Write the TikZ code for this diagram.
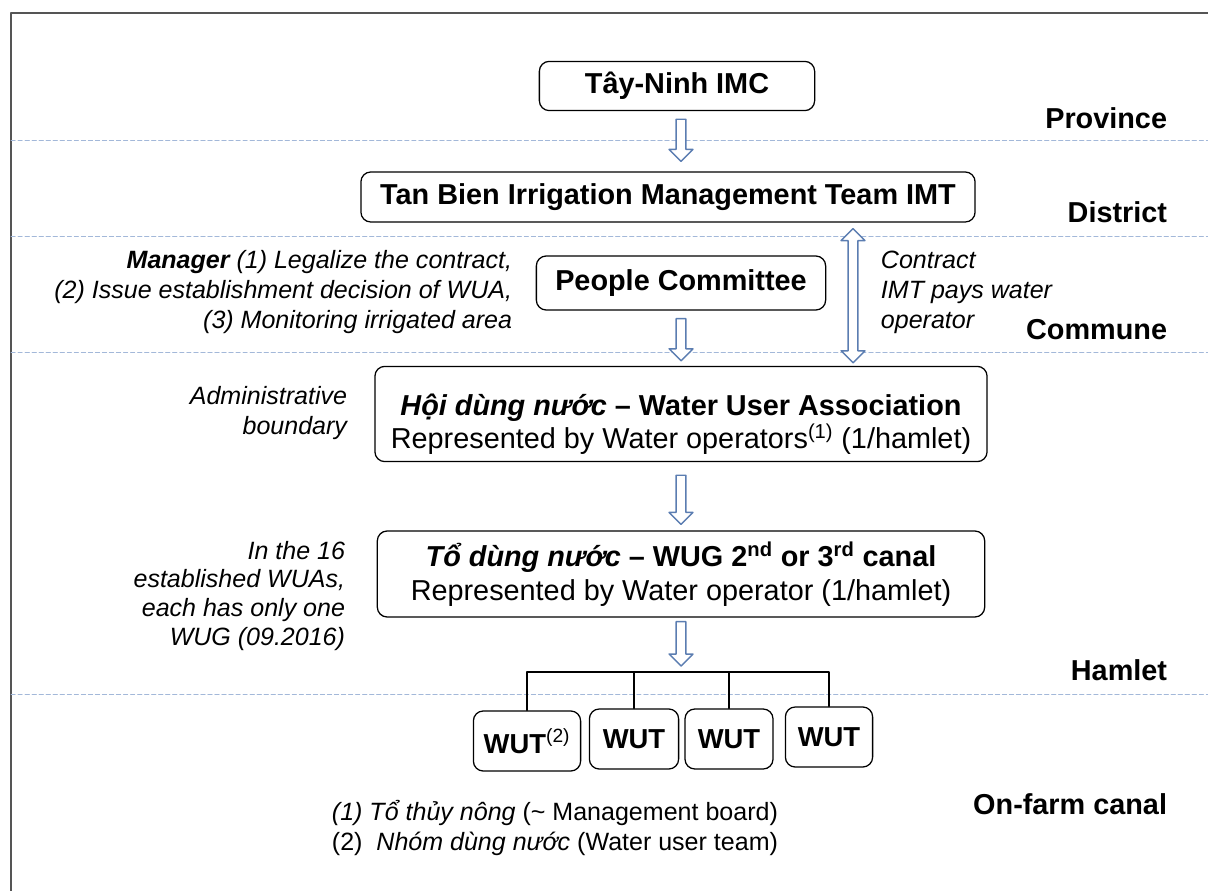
\documentclass[tikz,border=0pt]{standalone}
\usepackage{fontspec}
\setmainfont{Liberation Sans}
\usetikzlibrary{calc}
\definecolor{arrowblue}{HTML}{5B7DB1}
\definecolor{sepblue}{HTML}{A3B8D9}
\definecolor{framegray}{HTML}{555555}

\begin{document}
\begin{tikzpicture}[x=0.025cm, y=-0.025cm, line join=round, line cap=round,
		box/.style={draw, rounded corners=7pt, line width=0.9pt, align=center, inner sep=0pt},
		big/.style={font=\fontsize{20.5}{24}\selectfont\bfseries},
		body/.style={font=\fontsize{20.5}{24}\selectfont},
		note/.style={font=\fontsize{17.8}{21.3}\selectfont\itshape},
		level/.style={font=\fontsize{20.5}{24}\selectfont\bfseries, anchor=east},
		sep/.style={sepblue, dash pattern=on 3pt off 2pt, line width=0.7pt},
		hollow/.style={draw=arrowblue, fill=white, line width=1pt},
		tree/.style={line width=1pt}]
			\def\sw{3.5pt} \def\hw{8.5pt} \def\hl{8.5pt}
			\def\hollowdown#1#2{\draw[hollow] let \p1=#1, \p2=#2 in
				(\x1-\sw,\y1) -- (\x1+\sw,\y1) -- (\x1+\sw,\y2+\hl) -- (\x1+\hw,\y2+\hl) -- (\x1,\y2)
				-- (\x1-\hw,\y2+\hl) -- (\x1-\sw,\y2+\hl) -- cycle;}
			\def\hollowboth#1#2{\draw[hollow] let \p1=#1, \p2=#2 in
				(\x1,\y1) -- (\x1+\hw,\y1-\hl) -- (\x1+\sw,\y1-\hl) -- (\x1+\sw,\y2+\hl) -- (\x1+\hw,\y2+\hl) -- (\x1,\y2)
				-- (\x1-\hw,\y2+\hl) -- (\x1-\sw,\y2+\hl) -- (\x1-\sw,\y1-\hl) -- (\x1-\hw,\y1-\hl) -- cycle;}
			\useasboundingbox (0,0) rectangle (1208,891);
			\draw[framegray, line width=1.5pt] (11,891) -- (11,13) -- (1208,13);
			\foreach \y in {140,236,352,694}
				\draw[sep] (11,\y) -- (1208,\y);

			% levels
			\node[level] (province) at (1172,118) {Province};
			\node[level] (district) at (1172,212) {District};
			\node[level] (commune) at (1172,330) {Commune};
			\node[level] (hamlet) at (1172,670) {Hamlet};
			\node[level] (onfarm) at (1172,804) {On-farm canal};

			% boxes
			\node[box, big, minimum width=6.88cm, minimum height=1.23cm] (imc) at (677,86) {Tây-Ninh IMC};
			\node[box, big, minimum width=15.35cm, minimum height=1.25cm] (imt) at (668,197) {Tan Bien Irrigation Management Team IMT};
			\node[box, big, minimum width=7.23cm, minimum height=1.35cm] (ppc) at (681,283) {People Committee};
			\node[box, body, minimum width=15.3cm, minimum height=2.38cm] (wua) at (681,414)
				{\rule{0pt}{30pt}{\bfseries\itshape Hội dùng nước} \textbf{– Water User Association}\\
				 Represented by Water operators\textsuperscript{(1)} (1/hamlet)};
			\node[box, body, minimum width=15.18cm, minimum height=2.15cm] (wug) at (681,574)
				{{\bfseries\itshape Tổ dùng nước} \textbf{– WUG 2\textsuperscript{nd} or 3\textsuperscript{rd} canal}\\
				 Represented by Water operator (1/hamlet)};
			\node[box, font=\fontsize{19.5}{23}\selectfont\bfseries, minimum width=2.68cm, minimum height=1.5cm] (wut1) at (527,741) {WUT\textsuperscript{\mdseries(2)}};
			\node[box, font=\fontsize{19.5}{23}\selectfont\bfseries, minimum width=2.23cm, minimum height=1.5cm] (wut2) at (634,739) {WUT};
			\node[box, font=\fontsize{19.5}{23}\selectfont\bfseries, minimum width=2.2cm, minimum height=1.5cm] (wut3) at (729,739) {WUT};
			\node[box, font=\fontsize{19.5}{23}\selectfont\bfseries, minimum width=2.18cm, minimum height=1.5cm] (wut4) at (829,737) {WUT};

			% notes
			\node[note, anchor=east, align=right] (mgr) at (517,292)
				{{\bfseries Manager} (1) Legalize the contract,\\(2) Issue establishment decision of WUA,\\(3) Monitoring irrigated area};
			\node[note, anchor=west, align=left] (contract) at (876,292) {Contract\\IMT pays water\\operator};
			\node[note, anchor=east, align=right] (adm) at (352,413) {Administrative\\boundary};
			\node[note, anchor=east, align=right, font=\fontsize{17.8}{20.6}\selectfont\itshape] (sixteen) at (350,596)
				{In the 16\\established WUAs,\\each has only one\\WUG (09.2016)};
			\node[anchor=west, align=left, font=\fontsize{17.8}{21.3}\selectfont] (foot) at (327,828)
				{\textit{(1) Tổ thủy nông} (\textasciitilde{} Management board)\\(2)\ \ \textit{Nhóm dùng nước} (Water user team)};

			% arrows
			\coordinate (ax) at (681,0);
			\coordinate (dx) at (853,0);
			\coordinate (bus) at (0,672);
			\hollowdown{($(imc.south -| ax)+(0,8)$)}{($(imt.north -| ax)+(0,-10)$)}
			\hollowdown{($(ppc.south -| ax)+(0,8)$)}{($(wua.north -| ax)+(0,-5)$)}
			\hollowdown{($(wua.south -| ax)+(0,13)$)}{($(wug.north -| ax)+(0,-6)$)}
			\hollowdown{($(wug.south -| ax)+(0,4)$)}{($(bus -| ax)+(0,-6)$)}
			\hollowboth{($(imt.south -| dx)+(0,6)$)}{($(wua.north -| dx)+(0,-3)$)}

			% tree
			\draw[tree] (wut1.north) -- (wut1.north |- bus) -- (wut4.north |- bus) -- (wut4.north);
			\draw[tree] (wut2.north) -- (wut2.north |- bus);
			\draw[tree] (wut3.north) -- (wut3.north |- bus);
		\end{tikzpicture}
\end{document}
